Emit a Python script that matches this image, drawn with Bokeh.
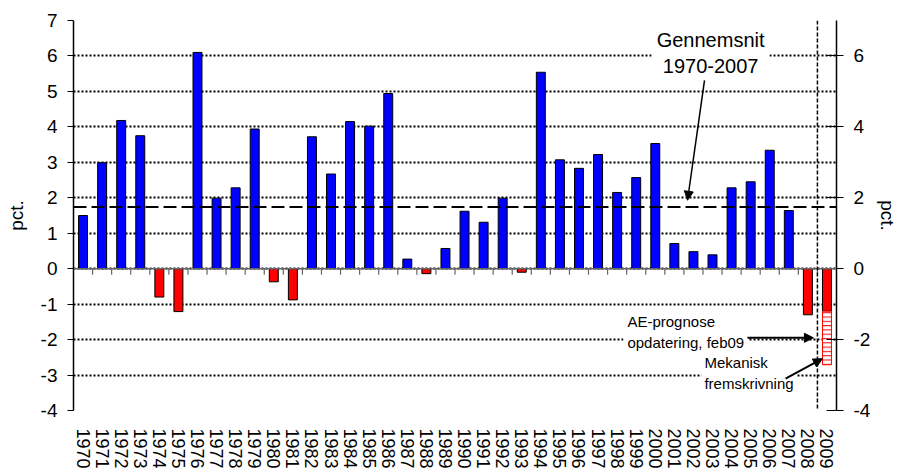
from bokeh.plotting import figure
from bokeh.models import (FactorRange, Range1d, LinearAxis, FixedTicker, Span,
                          Label, Arrow, NormalHead, ColumnDataSource)
from bokeh.embed import file_html
from bokeh.resources import INLINE

# ---- data ----
years = ["1970", "1971", "1972", "1973", "1974", "1975", "1976", "1977", "1978", "1979",
         "1980", "1981", "1982", "1983", "1984", "1985", "1986", "1987", "1988", "1989",
         "1990", "1991", "1992", "1993", "1994", "1995", "1996", "1997", "1998", "1999",
         "2000", "2001", "2002", "2003", "2004", "2005", "2006", "2007", "2008", "2009"]
growth = [1.50, 2.99, 4.18, 3.75, -0.80, -1.21, 6.10, 1.99, 2.28, 3.94,
          -0.37, -0.88, 3.72, 2.67, 4.15, 4.02, 4.94, 0.27, -0.14, 0.57,
          1.62, 1.31, 1.99, -0.10, 5.54, 3.07, 2.83, 3.22, 2.15, 2.57,
          3.53, 0.71, 0.48, 0.39, 2.28, 2.45, 3.34, 1.64, -1.30, -1.20]
forecast_year = "2009"
forecast_value = -2.71
average = 1.74
left_ticks = [-4, -3, -2, -1, 0, 1, 2, 3, 4, 5, 6, 7]
right_ticks = [-4, -2, 0, 2, 4, 6]

FONT = "Liberation Sans"
n = len(years)
colors = ["#0000FF" if v >= 0 else "#FF0000" for v in growth]
src = ColumnDataSource(dict(year=years, value=growth, color=colors))

# FactorRange synthetic coordinates: category i spans [i, i+1]
p = figure(x_range=FactorRange(factors=years), y_range=Range1d(-4, 7),
           width=901, height=472, output_backend="svg", toolbar_location=None,
           min_border_left=73, min_border_right=65, min_border_top=20,
           min_border_bottom=62)
p.outline_line_color = None
p.background_fill_color = "white"

# grid
p.xgrid.grid_line_color = None
p.ygrid.ticker = FixedTicker(ticks=left_ticks)
p.ygrid.grid_line_color = "black"
p.ygrid.grid_line_dash = "2 2"
p.ygrid.grid_line_width = 1.8

# bars
p.vbar(x="year", top="value", bottom=0, width=0.47, source=src,
       fill_color="color", line_color="black", line_width=1)
p.vbar(x=[forecast_year], top=[growth[years.index(forecast_year)]], bottom=[forecast_value],
       width=0.47, fill_color="white", line_color="red", line_width=1,
       hatch_pattern="horizontal_line", hatch_color="red", hatch_scale=4.3, hatch_weight=1)

# zero line with category-boundary ticks
p.add_layout(Span(location=0, dimension="width", line_color="#666666", line_width=1.5))
bounds = list(range(1, n))
p.segment(x0=bounds, y0=[0] * len(bounds), x1=bounds, y1=[-0.17] * len(bounds),
          line_color="#666666", line_width=1.2)

# average line
p.add_layout(Span(location=average, dimension="width", line_color="black",
                  line_dash="13 5", line_width=2))
# forecast separator
p.add_layout(Span(location=years.index(forecast_year), dimension="height",
                  line_color="black", line_dash="4 2", line_width=1.5))

# axes
xa = p.xaxis[0]
xa.axis_line_color = None
xa.major_tick_line_color = None
xa.minor_tick_line_color = None
xa.major_label_orientation = "vertical"
xa.major_label_standoff = 12
xa.major_label_text_font = FONT
xa.major_label_text_font_size = "18px"
xa.major_label_text_color = "black"

ya = p.yaxis[0]
ya.ticker = FixedTicker(ticks=left_ticks)
ya.major_label_overrides = {t: str(t) for t in left_ticks}
ya.axis_line_color = "black"
ya.axis_line_width = 1.5
ya.major_tick_out = 6
ya.major_tick_in = 0
ya.minor_tick_line_color = None
ya.major_label_standoff = 10
ya.major_label_text_font = FONT
ya.major_label_text_font_size = "19px"
ya.major_label_text_color = "black"
ya.axis_label = "pct."
ya.axis_label_text_font = FONT
ya.axis_label_text_font_size = "19px"
ya.axis_label_text_font_style = "normal"
ya.axis_label_text_color = "black"
ya.axis_label_standoff = 11

ra = LinearAxis(ticker=FixedTicker(ticks=right_ticks), axis_label="pct.")
ra.major_label_overrides = {t: str(t) for t in right_ticks}
ra.axis_line_color = "black"
ra.axis_line_width = 1.5
ra.major_tick_out = 7
ra.major_tick_in = 10
ra.minor_tick_line_color = None
ra.major_label_standoff = 10
ra.major_label_text_font = FONT
ra.major_label_text_font_size = "19px"
ra.major_label_text_color = "black"
ra.axis_label_text_font = FONT
ra.axis_label_text_font_size = "19px"
ra.axis_label_text_font_style = "normal"
ra.axis_label_text_color = "black"
ra.axis_label_standoff = 4
p.add_layout(ra, "right")

# annotations
p.add_layout(Label(x=33.4, y=6.09, text="Gennemsnit\n1970-2007",
                   text_align="center", text_baseline="middle", text_font=FONT,
                   text_font_size="20px", text_color="black",
                   background_fill_color="white", padding=5))
p.add_layout(Arrow(x_start=33.08, y_start=5.31, x_end=32.19, y_end=1.93,
                   line_width=1.5, end=NormalHead(size=9, fill_color="black", line_color="black")))

p.add_layout(Label(x=28.83, y=-1.78, text="AE-prognose\nopdatering, feb09",
                   text_align="left", text_baseline="middle", text_font=FONT,
                   text_font_size="15px", text_line_height=1.25, text_color="black",
                   background_fill_color="white", padding=4))
p.add_layout(Arrow(x_start=35.33, y_start=-1.95, x_end=38.79, y_end=-1.95,
                   line_width=2, end=NormalHead(size=9, fill_color="black", line_color="black")))

p.add_layout(Label(x=32.92, y=-2.94, text="Mekanisk\nfremskrivning",
                   text_align="left", text_baseline="middle", text_font=FONT,
                   text_font_size="15px", text_line_height=1.25, text_color="black",
                   background_fill_color="white", padding=3))
p.add_layout(Arrow(x_start=37.33, y_start=-3.10, x_end=39.26, y_end=-2.54,
                   line_width=2, end=NormalHead(size=9, fill_color="black", line_color="black")))

open("out.html", "w").write(file_html(p, INLINE))
